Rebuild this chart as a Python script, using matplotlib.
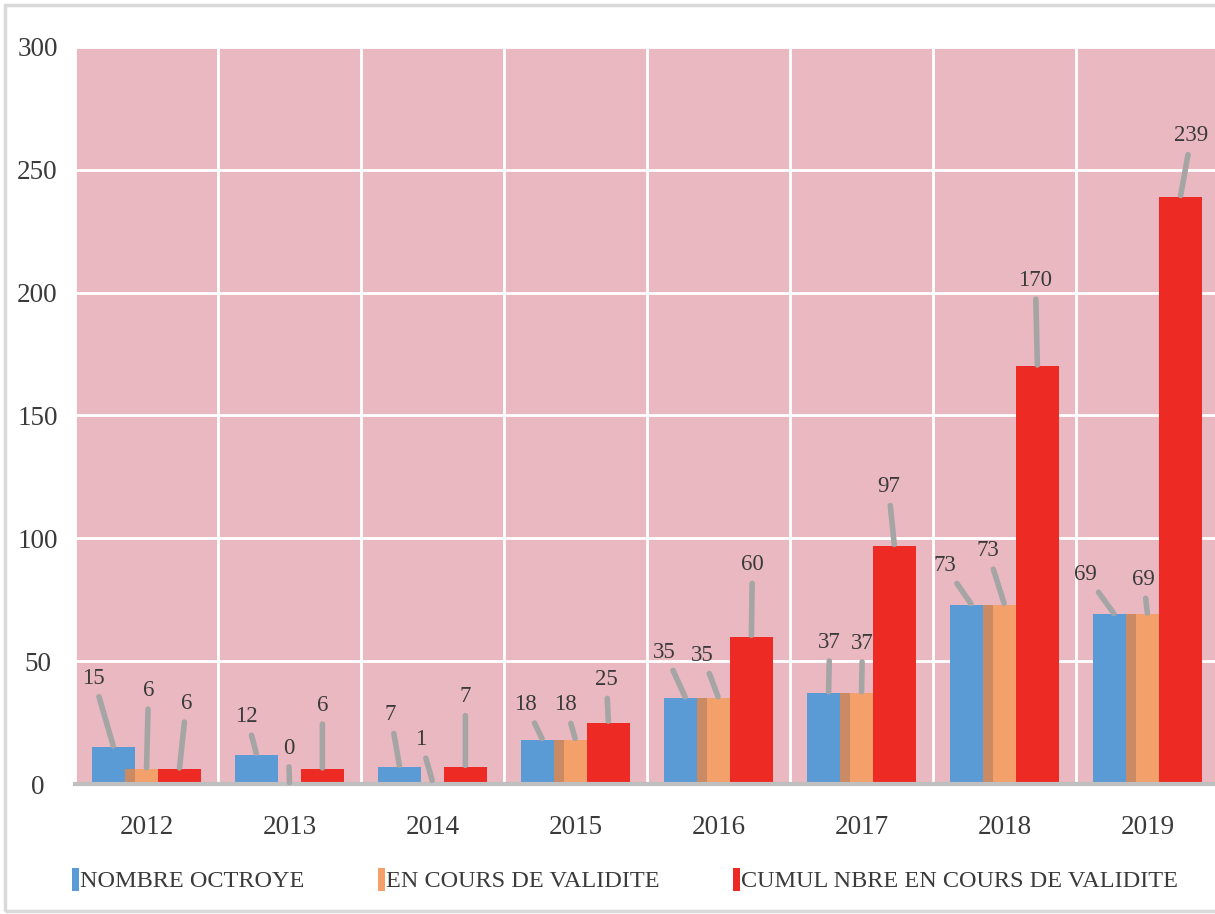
import matplotlib.pyplot as plt
import numpy as np
from matplotlib.patches import Rectangle

plt.rcParams.update(
    {
        "font.family": ["Liberation Serif", "DejaVu Serif"],
        "text.color": "#3A3A3A",
        "axes.labelcolor": "#3A3A3A",
        "xtick.color": "#3A3A3A",
        "ytick.color": "#3A3A3A",
    }
)

years = ["2012", "2013", "2014", "2015", "2016", "2017", "2018", "2019"]
nombre_octroye = [15, 12, 7, 18, 35, 37, 73, 69]
en_cours = [6, 0, 1, 18, 35, 37, 73, 69]
cumul = [6, 6, 7, 25, 60, 97, 170, 239]

SERIES = [
    ("NOMBRE OCTROYE", nombre_octroye, "#5B9BD5"),
    ("EN COURS DE VALIDITE", en_cours, "#F4A06B"),
    ("CUMUL NBRE EN COURS DE VALIDITE", cumul, "#EE2A24"),
]

# label offsets (pixels, from bar top centre) - tuned by eye
LABEL_OFFSETS = [
    [(-20, 69), (-10, 38), (-9, 52), (-17, 35), (-21, 46), (1, 51), (-27, 39), (-29, 40)],
    [(2, 79), (-1, 36), (-12, 42), (-10, 35), (-16, 43), (1, 50), (-17, 54), (-4, 35)],
    [(7, 66), (0, 64), (0, 70), (-2, 43), (1, 72), (-6, 59), (-2, 86), (11, 61)],
]

W, H = 1215, 914
fig = plt.figure(figsize=(W / 100, H / 100), dpi=100)
fig.patches.append(
    Rectangle((5 / W, 3 / H), 1.0, (H - 8) / H, transform=fig.transFigure,
              fill=False, edgecolor="#D9D9D9", linewidth=2.5)
)

ax = fig.add_axes([75 / W, 130 / H, 1144 / W, 737 / H])
ax.set_facecolor("#E9B8C0")

x = np.arange(len(years))
offset = 0.23
width = 0.30

for i, (label, vals, color) in enumerate(SERIES):
    ax.bar(x + (i - 1) * offset, vals, width, color=color, label=label, zorder=3 + i)

# darker band where the orange bar sits over the blue one
ov_left = -0.5 * width
ov_right = -offset + 0.5 * width
ov_h = np.minimum(nombre_octroye, en_cours)
ax.bar(x + (ov_left + ov_right) / 2, ov_h, ov_right - ov_left, color="#C98A64", zorder=4.5)

for i, (label, vals, color) in enumerate(SERIES):
    for j, v in enumerate(vals):
        dx, dy = LABEL_OFFSETS[i][j]
        ax.annotate(
            f"{v}",
            xy=(x[j] + (i - 1) * offset, v),
            xytext=(dx * 0.72, dy * 0.72),
            textcoords="offset points",
            ha="center",
            va="center",
            fontsize=16.5,
            zorder=10,
            arrowprops=dict(arrowstyle="-", color="#A5A5A5", lw=4,
                            shrinkA=4, shrinkB=1),
        )

ax.set_xlim(-0.5, len(years) - 0.5)
ax.set_ylim(0, 300)
ax.set_yticks(np.arange(0, 301, 50))
ax.set_xticks(x)
ax.set_xticklabels(years)
ax.set_xticks(np.arange(-0.5, len(years), 1), minor=True)
ax.tick_params(axis="both", which="both", length=0, labelsize=19.5)
ax.tick_params(axis="x", pad=22)
ax.tick_params(axis="y", pad=27)
for lbl in ax.get_yticklabels():
    lbl.set_horizontalalignment("center")
ax.grid(axis="y", color="white", linewidth=2, zorder=1)
ax.grid(axis="x", which="minor", color="white", linewidth=2, zorder=1)
ax.grid(axis="x", which="major", visible=False)
for s in ["top", "right", "left"]:
    ax.spines[s].set_visible(False)
ax.spines["bottom"].set_color("#BFBFBF")
ax.spines["bottom"].set_linewidth(3)
ax.spines["bottom"].set_zorder(8)

fig.legend(
    loc="center",
    bbox_to_anchor=(625 / W, 1 - 880 / H),
    ncol=3,
    frameon=False,
    fontsize=17.5,
    handlelength=0.3,
    handleheight=1.1,
    handletextpad=0.05,
    columnspacing=3.0,
    labelcolor="#3A3A3A",
)

fig.savefig("out.png", dpi=100)
